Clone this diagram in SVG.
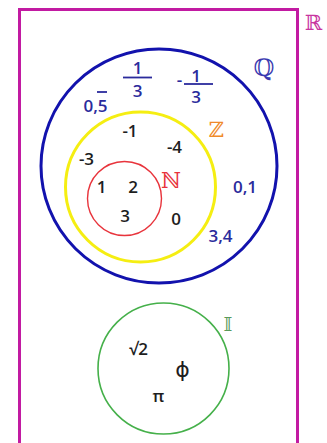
<svg xmlns="http://www.w3.org/2000/svg" width="327" height="443" viewBox="0 0 327 443">
<style>
.num{font-family:"Open Sans","Liberation Sans",sans-serif;font-size:17px;font-weight:600;text-anchor:middle}
.blk{fill:#1e1e1e}
.blu{fill:#2b2b9c}
.set{font-family:"DejaVu Serif","DejaVu Sans",serif;text-anchor:middle}
.bar{stroke:#2b2b9c;stroke-width:1.8}
</style>
<rect width="327" height="443" fill="#ffffff"/>
<g id="R">
<rect x="19.5" y="9.5" width="278" height="450" fill="none" stroke="#c21aa2" stroke-width="3"/>
<text class="set" x="313.5" y="30" font-size="21" fill="#c8359f">ℝ</text>
</g>
<g id="Q">
<ellipse cx="159" cy="166" rx="118" ry="117" fill="none" stroke="#1212ad" stroke-width="3"/>
<text class="set" x="264" y="76" font-size="24" fill="#3a3ab0">ℚ</text>
<text class="num blu" x="95.5" y="112">0,5</text>
<line class="bar" x1="97" y1="92" x2="107" y2="92"/>
<text class="num blu" x="137.5" y="74">1</text>
<line class="bar" x1="123" y1="77.5" x2="152" y2="77.5"/>
<text class="num blu" x="137.5" y="97">3</text>
<text class="num blu" x="179.5" y="86">-</text>
<text class="num blu" x="196" y="82">1</text>
<line class="bar" x1="184" y1="84" x2="213" y2="84"/>
<text class="num blu" x="196" y="103">3</text>
<text class="num blu" x="245" y="193">0,1</text>
<text class="num blu" x="220.5" y="242">3,4</text>
</g>
<g id="Z">
<circle cx="140.5" cy="187" r="75" fill="none" stroke="#f5ee12" stroke-width="3"/>
<text class="set" x="216.5" y="137" font-size="21" fill="#f08a2a">ℤ</text>
<text class="num blk" x="130" y="137">-1</text>
<text class="num blk" x="174.5" y="153">-4</text>
<text class="num blk" x="86.5" y="165">-3</text>
<text class="num blk" x="176" y="225">0</text>
</g>
<g id="N">
<circle cx="124.5" cy="198.5" r="37" fill="none" stroke="#e8343c" stroke-width="1.4"/>
<text class="set" x="171" y="188" font-size="22" fill="#e8343c">ℕ</text>
<text class="num blk" x="101.5" y="193">1</text>
<text class="num blk" x="133" y="193">2</text>
<text class="num blk" x="125" y="222">3</text>
</g>
<g id="I">
<circle cx="163.5" cy="368.5" r="65.5" fill="none" stroke="#45b04a" stroke-width="1.6"/>
<text class="set" x="228" y="331" font-size="19" fill="#5a9a5a">𝕀</text>
<text class="num blk" x="138.5" y="355" font-size="18">√2</text>
<text class="blk" x="182.5" y="377" font-family="DejaVu Sans,sans-serif" font-size="22" text-anchor="middle">ϕ</text>
<text class="num blk" x="158.5" y="402" font-size="18">π</text>
</g>
</svg>
